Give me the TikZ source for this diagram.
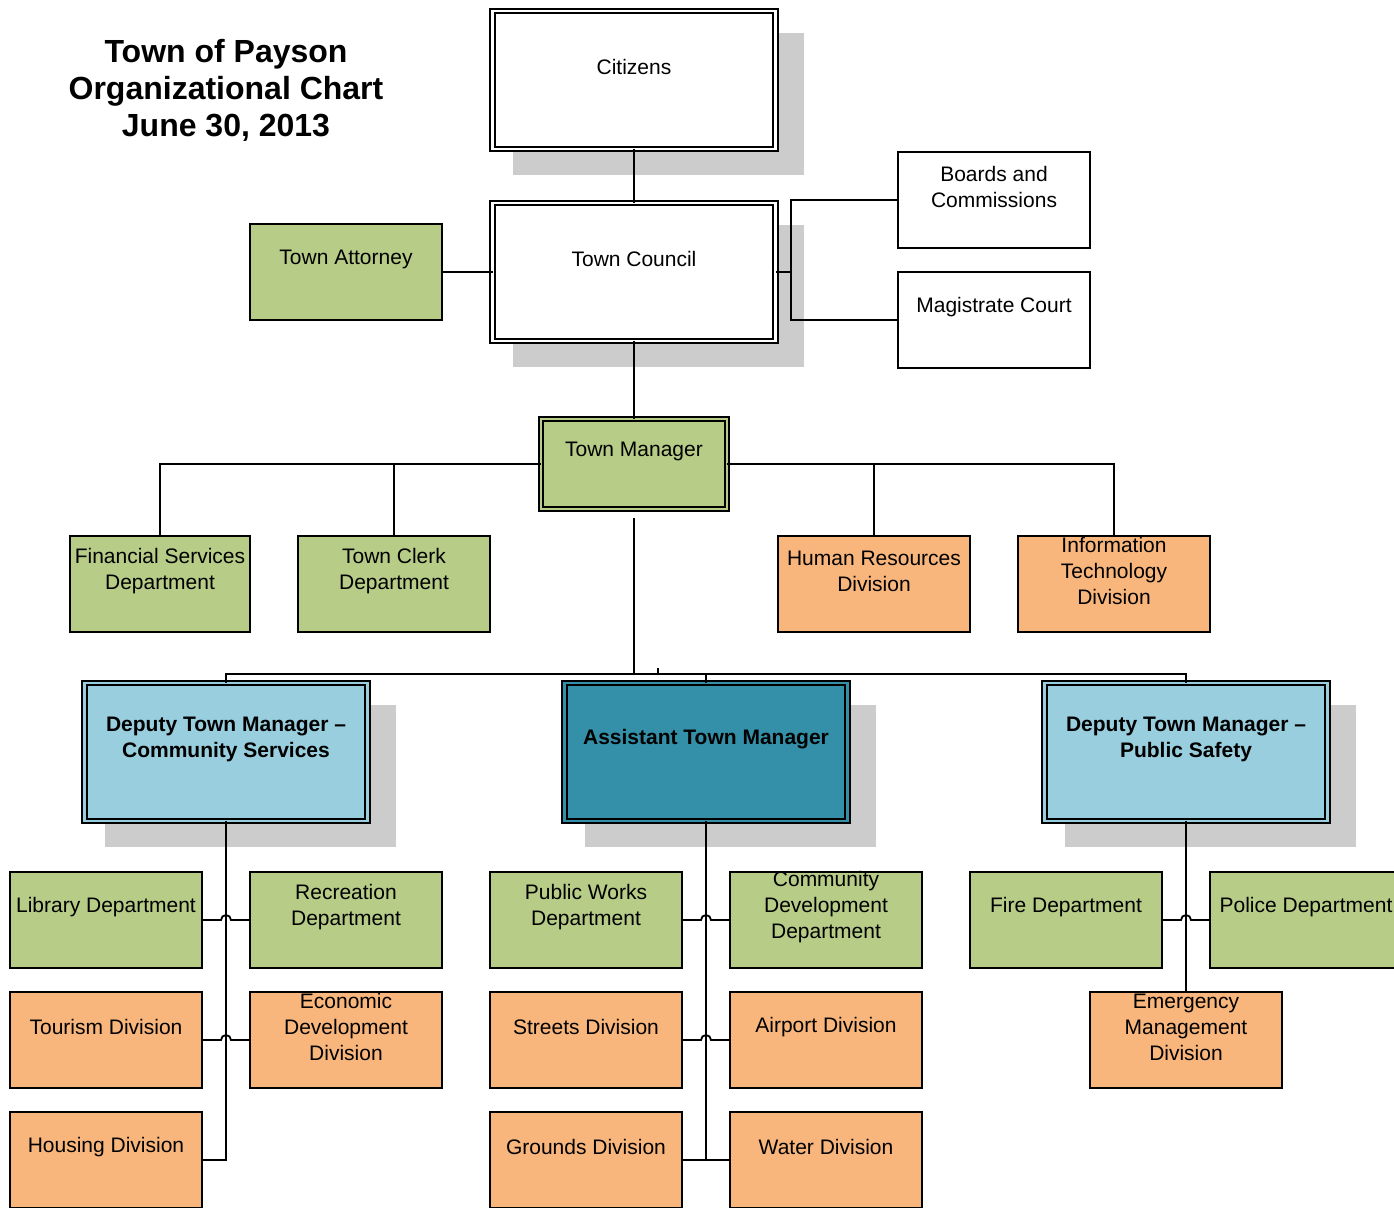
\documentclass[tikz,border=0pt]{standalone}
\usepackage{fontspec}
\setmainfont{Liberation Sans}
\usetikzlibrary{positioning, shadows}

\definecolor{boxgreen}{RGB}{183,204,135}
\definecolor{boxorange}{RGB}{248,182,124}
\definecolor{boxblue}{RGB}{152,206,221}
\definecolor{boxteal}{RGB}{52,144,168}
\definecolor{shadowgray}{RGB}{204,204,204}
\newcommand{\nodefont}{\fontsize{21}{26}\selectfont}
\newcommand{\titlefont}{\fontsize{32}{37}\selectfont\bfseries}

\tikzset{
  box/.style={draw, line width=1.8pt, minimum width=192pt, minimum height=96pt, inner sep=0pt, outer sep=0pt},
  gbox/.style={box, fill=boxgreen},
  obox/.style={box, fill=boxorange},
  wbox/.style={box, fill=white},
  bigbox/.style={draw, line width=1.7pt, double distance=2.8pt, minimum width=283pt, minimum height=138pt, inner sep=0pt, outer sep=0pt},
  shade/.style={drop shadow={shadow xshift=24pt, shadow yshift=-23pt, shadow scale=1.03, fill=shadowgray, opacity=1}},
  txt/.style={label={[font=\nodefont, align=center, yshift=13pt]center:#1}},
  btxt/.style={label={[font=\nodefont\bfseries, align=center, yshift=13pt]center:#1}},
  conn/.style={line width=1.8pt}
}

\begin{document}
\begin{tikzpicture}[x=1pt, y=-1pt, node distance=24pt and 48pt]
\useasboundingbox (0,0) rectangle (1394,1207);

\node (title) [font=\titlefont, align=center] at (226,90) {Town of Payson\\Organizational Chart\\June 30, 2013};

% top of the chart
\node (citizens) [bigbox, shade, fill=white, double=white, txt={Citizens}] at (634,80) {};
\node (council) [bigbox, shade, fill=white, double=white, txt={Town Council}] at (634,272) {};
\node (attorney) [gbox, txt={Town Attorney}] at (346,272) {};
\node (boards) [wbox, txt={Boards and\\Commissions}] at (994,200) {};
\node (court) [wbox, txt={Magistrate Court}] at (994,320) {};
\node (manager) [bigbox, fill=boxgreen, double=boxgreen, minimum width=186pt, minimum height=90pt, txt={Town Manager}] at (634,464) {};

% offices under the manager
\node (finance) [gbox, minimum width=180pt, txt={Financial Services\\Department}] at (160,584) {};
\node (clerk) [gbox, txt={Town Clerk\\Department}] at (394,584) {};
\node (hr) [obox, txt={Human Resources\\Division}] at (874,584) {};
\node (it) [obox, txt={Information\\Technology\\Division}] at (1114,584) {};

% deputies
\node (dcs) [bigbox, shade, fill=boxblue, double=boxblue, btxt={Deputy Town Manager --\\Community Services}] at (226,752) {};
\node (atm) [bigbox, shade, fill=boxteal, double=boxteal, btxt={Assistant Town Manager}] at (706,752) {};
\node (dps) [bigbox, shade, fill=boxblue, double=boxblue, btxt={Deputy Town Manager --\\Public Safety}] at (1186,752) {};

% community services
\node (library) [gbox, txt={Library Department}] at (106,920) {};
\node (recreation) [gbox, right=of library, txt={Recreation\\Department}] {};
\node (tourism) [obox, below=of library, txt={Tourism Division}] {};
\node (econ) [obox, right=of tourism, txt={Economic\\Development\\Division}] {};
\node (housing) [obox, below=of tourism, txt={Housing Division}] {};

% assistant manager
\node (works) [gbox, txt={Public Works\\Department}] at (586,920) {};
\node (commdev) [gbox, right=of works, txt={Community\\Development\\Department}] {};
\node (streets) [obox, below=of works, txt={Streets Division}] {};
\node (airport) [obox, right=of streets, txt={Airport Division}] {};
\node (grounds) [obox, below=of streets, txt={Grounds Division}] {};
\node (water) [obox, right=of grounds, txt={Water Division}] {};

% public safety
\node (fire) [gbox, txt={Fire Department}] at (1066,920) {};
\node (police) [gbox, right=of fire, txt={Police Department}] {};
\node (emergency) [obox, txt={Emergency\\Management\\Division}] at (1186,1040) {};

% connectors
\draw[conn] (citizens.south) -- (council.north);
\draw[conn] (attorney.east) -- (council.west);
\draw[conn] (council.east) -- ++(15.5,0) coordinate (split);
\draw[conn] (boards.west) -| (split) |- (court.west);
\draw[conn] (council.south) -- (manager.north);
\draw[conn] (manager.west) -| (finance.north);
\draw[conn] (manager.west -| clerk.north) -- (clerk.north);
\draw[conn] (manager.east) -| (it.north);
\draw[conn] (manager.east -| hr.north) -- (hr.north);

\coordinate (bus) at (634,674);
\draw[conn] ([yshift=-9pt]manager.south) -- (bus);
\draw[conn] (bus) -- (bus -| dps.north) -- (dps.north);
\draw[conn] (bus) -- (bus -| dcs.north) -- (dcs.north);
\draw[conn] (bus -| atm.north) -- (atm.north);
\draw[conn] (658,668) -- (658,674);

\draw[conn] (dcs.south) |- (housing.east);
\draw[conn] (library.east) -- ++(19,0) arc (180:360:5) -- (recreation.west);
\draw[conn] (tourism.east) -- ++(19,0) arc (180:360:5) -- (econ.west);

\draw[conn] (atm.south) -- (atm.south |- grounds.east);
\draw[conn] (grounds.east) -- (water.west);
\draw[conn] (works.east) -- ++(19,0) arc (180:360:5) -- (commdev.west);
\draw[conn] (streets.east) -- ++(19,0) arc (180:360:5) -- (airport.west);

\draw[conn] (dps.south) -- (emergency.north);
\draw[conn] (fire.east) -- ++(19,0) arc (180:360:5) -- (police.west);
\end{tikzpicture}
\end{document}
